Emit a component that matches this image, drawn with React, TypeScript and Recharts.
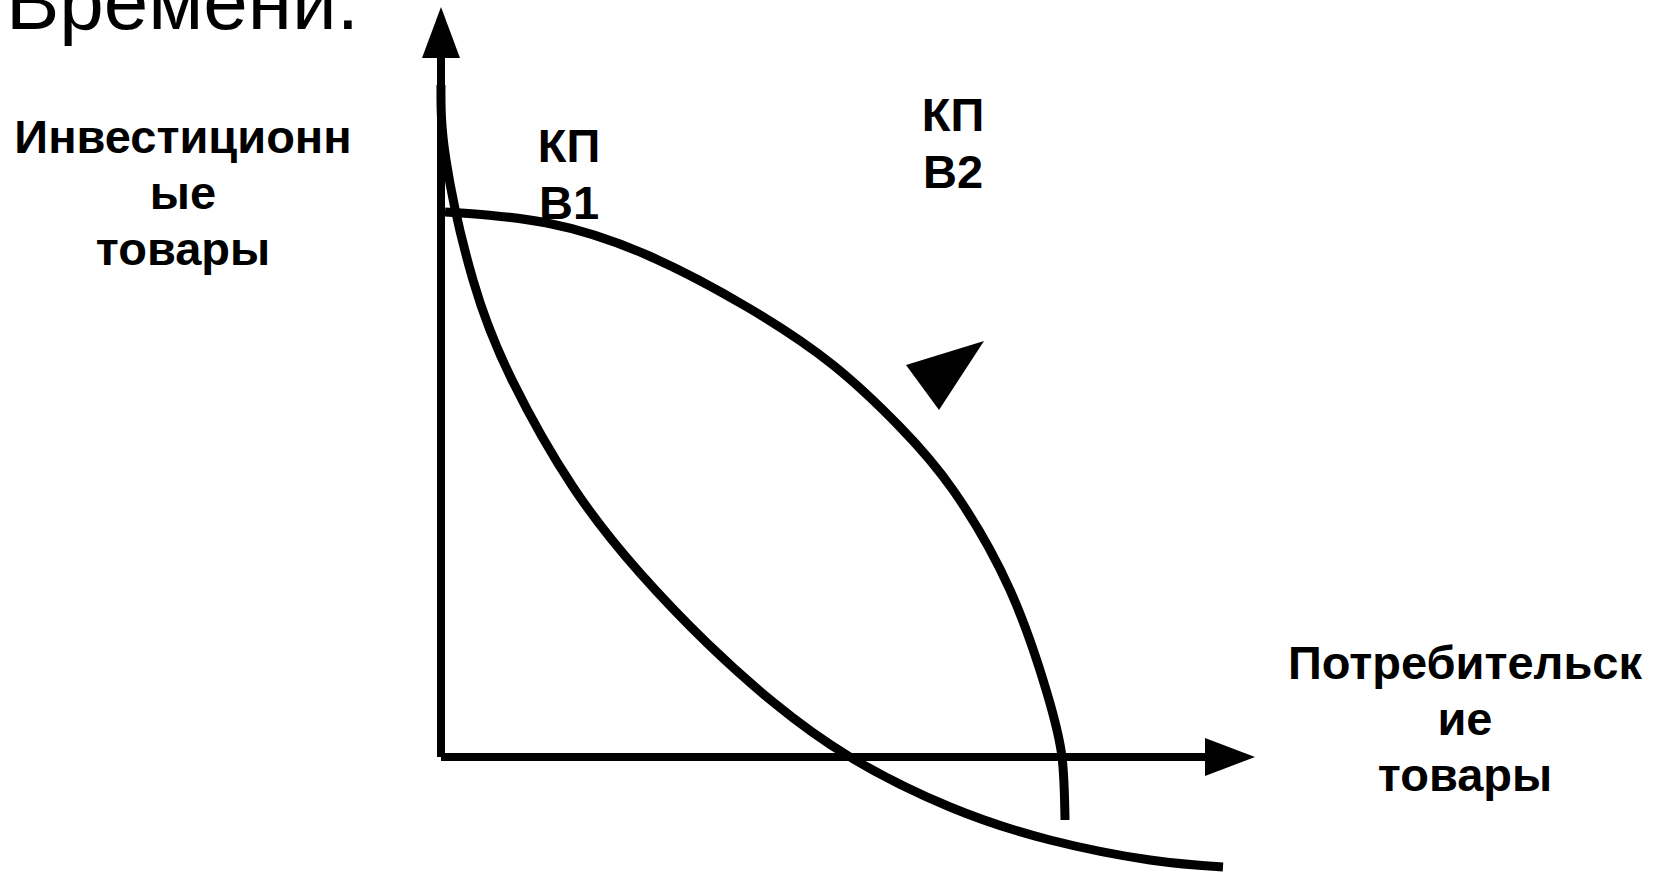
import React from 'react'
import { LineChart, Line, XAxis, YAxis, ReferenceDot } from 'recharts'

// units: 1 = 10px of the drawing, origin at the crossing of the axes
const curveB1X = [0, 0.5, 3.2, 7.1, 13.2, 19.9, 26.6, 33.2, 40.9, 50.9, 60.9, 70.9, 78.2]
const curveB1Y = [67.2, 59.7, 47.7, 37.7, 27.0, 18.4, 11.4, 5.5, 0, -5.0, -8.3, -10.3, -11.0]

const curveB2X = [0.4, 10.6, 20.6, 30.6, 39.2, 45.9, 51.2, 56.9, 60.6, 62.1, 62.4]
const curveB2Y = [54.5, 53.4, 50.2, 45.0, 39.2, 33.0, 26.7, 16.7, 6.4, 0, -6.3]

const axisYTop = 69.9
const axisYTip = 75.0
const axisXEnd = 76.4
const axisXTip = 81.4
const shiftArrowTip = { x: 54.3, y: 41.6 }

const titleText = 'Времени.'
const yLabelLines = ['Инвестиционн', 'ые', 'товары']
const xLabelLines = ['Потребительск', 'ие', 'товары']
const curve1Lines = ['КП', 'В1']
const curve2Lines = ['КП', 'В2']

const toPoints = (xs: number[], ys: number[]) => xs.map((x, i) => ({ x, y: ys[i] }))

const curveB1 = toPoints(curveB1X, curveB1Y)
const curveB2 = toPoints(curveB2X, curveB2Y)
const axisY = [{ x: 0, y: 0 }, { x: 0, y: axisYTop }]
const axisX = [{ x: 0, y: 0 }, { x: axisXEnd, y: 0 }]

const W = 1664
const H = 872
const FONT = "Arial, 'Liberation Sans', sans-serif"

const upArrow = (p: any) => (
  <polygon points={`${p.cx},${p.cy} ${p.cx - 19},${p.cy + 51} ${p.cx + 19},${p.cy + 51}`} fill="#000" />
)
const rightArrow = (p: any) => (
  <polygon points={`${p.cx},${p.cy} ${p.cx - 50},${p.cy - 19} ${p.cx - 50},${p.cy + 19}`} fill="#000" />
)
const shiftArrow = (p: any) => (
  <polygon points={`${p.cx},${p.cy} ${p.cx - 78},${p.cy + 24} ${p.cx - 45},${p.cy + 69}`} fill="#000" />
)

function TextBlock({ lines, cx, baseline, step }: { lines: string[]; cx: number; baseline: number; step: number }) {
  return (
    <>
      {lines.map((t, i) => (
        <text key={i} x={cx} y={baseline + i * step} textAnchor="middle" fontSize={47} fontWeight="bold" fontFamily={FONT} fill="#000">
          {t}
        </text>
      ))}
    </>
  )
}

export default function App() {
  return (
    <div style={{ position: 'relative', width: W, height: H, background: '#fff' }}>
      <style>{'body{margin:0}'}</style>
      <LineChart width={W} height={H} margin={{ top: 0, right: 0, bottom: 0, left: 0 }}>
        <XAxis type="number" dataKey="x" domain={[-44.1, 122.3]} hide allowDataOverflow />
        <YAxis type="number" dataKey="y" domain={[-11.5, 75.7]} hide allowDataOverflow />

        {/* axes */}
        <Line data={axisY} dataKey="y" type="linear" stroke="#000" strokeWidth={8} dot={false} activeDot={false} isAnimationActive={false} />
        <Line data={axisX} dataKey="y" type="linear" stroke="#000" strokeWidth={8} dot={false} activeDot={false} isAnimationActive={false} />
        <ReferenceDot x={0} y={axisYTip} r={0} shape={upArrow} />
        <ReferenceDot x={axisXTip} y={0} r={0} shape={rightArrow} />

        {/* production possibility curves */}
        <Line data={curveB1} dataKey="y" type="natural" stroke="#000" strokeWidth={9} dot={false} activeDot={false} isAnimationActive={false} />
        <Line data={curveB2} dataKey="y" type="natural" stroke="#000" strokeWidth={9} dot={false} activeDot={false} isAnimationActive={false} />
        <ReferenceDot x={shiftArrowTip.x} y={shiftArrowTip.y} r={0} shape={shiftArrow} />
      </LineChart>

      <svg width={W} height={H} style={{ position: 'absolute', left: 0, top: 0, pointerEvents: 'none' }}>
        <text x={6} y={29} fontSize={80} fontFamily={FONT} fill="#000">{titleText}</text>
        <TextBlock lines={yLabelLines} cx={183} baseline={153} step={56} />
        <TextBlock lines={xLabelLines} cx={1465} baseline={679} step={56} />
        <TextBlock lines={curve1Lines} cx={569} baseline={162} step={57} />
        <TextBlock lines={curve2Lines} cx={953} baseline={131} step={57} />
      </svg>
    </div>
  )
}
